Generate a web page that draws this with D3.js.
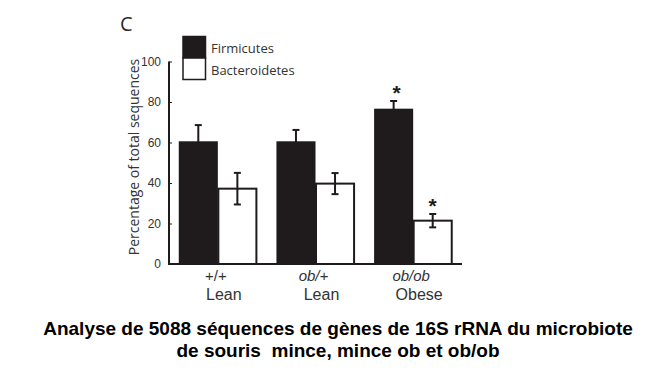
<!DOCTYPE html>
<html>
<head>
<meta charset="utf-8">
<script src="https://cdn.jsdelivr.net/npm/d3@7"></script>
<style>
  html, body { margin: 0; padding: 0; background: #fff; }
  svg { display: block; }
</style>
</head>
<body>
<script>
// ---- data ----
const groups = ["+/+", "ob/+", "ob/ob"];
const groupSub = ["Lean", "Lean", "Obese"];
const groupItalic = [false, true, true];
const seriesNames = ["Firmicutes", "Bacteroidetes"];
const firmicutes = [60.6, 60.6, 76.7];
const firmicutesErr = [8, 5.6, 3.8];
const bacteroidetes = [37.2, 39.7, 21.4];
const bacteroidetesErr = [7.8, 5.2, 3.3];
const significant = [[false, false], [false, false], [true, true]];
const yTicks = [0, 20, 40, 60, 80, 100];
const panelLabel = "C";
const yLabel = "Percentage of total sequences";
const caption = ["Analyse de 5088 séquences de gènes de 16S rRNA du microbiote",
                 "de souris  mince, mince ob et ob/ob"];

const W = 645, H = 373;
const svg = d3.select("body").append("svg").attr("width", W).attr("height", H);
svg.append("rect").attr("width", W).attr("height", H).attr("fill", "#fff");

const axX0 = 169, axX1 = 462, yBase = 264, yTop = 61.5;
const y = d3.scaleLinear().domain([0, 100]).range([yBase, yTop]);
const x = d3.scaleBand().domain(groups).range([axX0, axX1]).paddingInner(0.2).paddingOuter(0.1);
const xs = d3.scaleBand().domain(seriesNames).range([0, x.bandwidth()]).padding(0);

const data = groups.map((g, i) => ({
  g, i,
  vals: [
    {s: "Firmicutes", v: firmicutes[i], e: firmicutesErr[i], sig: significant[i][0]},
    {s: "Bacteroidetes", v: bacteroidetes[i], e: bacteroidetesErr[i], sig: significant[i][1]}
  ]
}));

const ink = "#1f1b1c";
const chart = svg.append("g");

const gs = chart.selectAll("g.grp").data(data).join("g").attr("class", "grp")
  .attr("transform", d => `translate(${x(d.g)},0)`);

// error bars
gs.each(function(d) {
  const g = d3.select(this);
  d.vals.forEach(v => {
    const cx = xs(v.s) + xs.bandwidth() / 2;
    const eb = g.append("g").attr("stroke", ink).attr("stroke-width", 2);
    eb.append("line").attr("x1", cx).attr("x2", cx).attr("y1", y(v.v + v.e)).attr("y2", y(v.v - v.e));
    eb.append("line").attr("x1", cx - 3.5).attr("x2", cx + 3.5).attr("y1", y(v.v + v.e)).attr("y2", y(v.v + v.e));
    eb.append("line").attr("x1", cx - 3.5).attr("x2", cx + 3.5).attr("y1", y(v.v - v.e)).attr("y2", y(v.v - v.e));
  });
});

// bars + significance marks
gs.each(function(d) {
  const g = d3.select(this);
  d.vals.forEach(v => {
    const isF = v.s === "Firmicutes";
    g.append("rect")
      .attr("x", xs(v.s) + (isF ? 0 : 0.5))
      .attr("y", y(v.v))
      .attr("width", xs.bandwidth() - (isF ? 0 : 1))
      .attr("height", y(0) - y(v.v))
      .attr("fill", isF ? ink : "none")
      .attr("stroke", isF ? "none" : ink)
      .attr("stroke-width", 2);
    if (v.sig) {
      g.append("text")
        .attr("x", xs(v.s) + xs.bandwidth() / 2 + (isF ? 3 : 0))
        .attr("y", y(v.v + v.e) - 1)
        .attr("text-anchor", "middle")
        .attr("font-family", "Liberation Sans, Arial, sans-serif")
        .attr("font-weight", "bold")
        .attr("font-size", 21)
        .attr("fill", ink)
        .text("*");
    }
  });
});

// y axis
const yAxis = d3.axisLeft(y).tickValues(yTicks).tickSize(-3).tickPadding(8).tickFormat(d3.format("d"));
const ya = svg.append("g").attr("transform", `translate(${axX0},0)`).call(yAxis);
ya.select(".domain").attr("stroke", ink).attr("stroke-width", 2).attr("d", `M0,${yTop}V${yBase}`);
ya.selectAll(".tick line").attr("stroke", ink).attr("stroke-width", 1);
ya.selectAll(".tick text").attr("font-family", "Liberation Sans, Arial, sans-serif")
  .attr("font-size", 12).attr("fill", "#333");

// x axis baseline + labels
const xAxis = d3.axisBottom(x).tickSize(0).tickFormat("");
const xa = svg.append("g").attr("transform", `translate(0,${yBase})`).call(xAxis);
xa.select(".domain").attr("stroke", ink).attr("stroke-width", 2).attr("d", `M${axX0 - 1},0H${axX1}`);
xa.selectAll(".tick").each(function(d, i) {
  const t = d3.select(this);
  t.select("text").remove();
  t.append("text").attr("x", -2).attr("y", 17)
    .attr("text-anchor", "middle")
    .attr("font-family", "Liberation Sans, Arial, sans-serif")
    .attr("font-size", 15).attr("fill", "#333")
    .attr("font-style", groupItalic[i] ? "italic" : "normal")
    .text(groups[i]);
  t.append("text").attr("x", 6).attr("y", 36)
    .attr("text-anchor", "middle")
    .attr("font-family", "Liberation Sans, Arial, sans-serif")
    .attr("font-size", 16).attr("fill", "#333")
    .text(groupSub[i]);
});

// y label
svg.append("text")
  .attr("transform", `translate(139,157) rotate(-90)`)
  .attr("text-anchor", "middle")
  .attr("font-family", "Open Sans, sans-serif")
  .attr("font-size", 14).attr("fill", "#333")
  .text(yLabel);

// panel label
svg.append("text").attr("x", 120).attr("y", 31)
  .attr("font-family", "Open Sans, sans-serif")
  .attr("font-size", 20).attr("fill", "#2a2a2a")
  .text(panelLabel);

// legend
const legend = svg.append("g");
seriesNames.forEach((s, i) => {
  const isF = i === 0;
  legend.append("rect").attr("x", 183).attr("y", 36.5 + i * 21.5).attr("width", 22.5).attr("height", 21.5)
    .attr("fill", isF ? ink : "#fff").attr("stroke", ink).attr("stroke-width", 1.5);
  legend.append("text").attr("x", 211).attr("y", 53 + i * 22)
    .attr("font-family", "Open Sans, sans-serif")
    .attr("font-size", 13).attr("fill", "#333")
    .text(s);
});

// caption
caption.forEach((c, i) => {
  svg.append("text").attr("x", 338).attr("y", 335 + i * 22)
    .attr("text-anchor", "middle")
    .attr("font-family", "Liberation Sans, Arial, sans-serif")
    .attr("font-weight", "bold")
    .attr("font-size", 19).attr("fill", "#000")
    .style("white-space", "pre")
    .text(c);
});
</script>
</body>
</html>
